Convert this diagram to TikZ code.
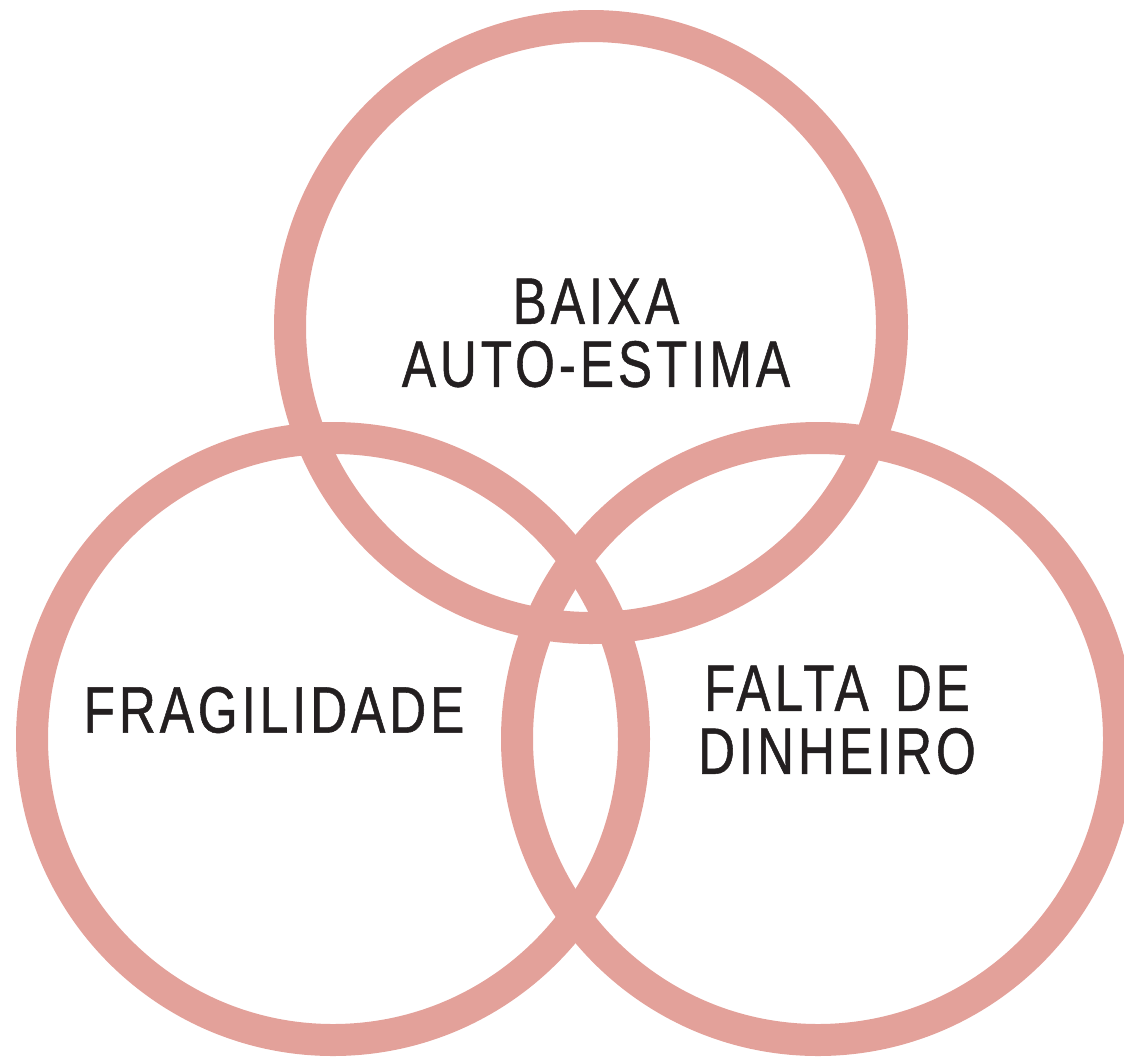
\documentclass[tikz,border=0pt]{standalone}
\usepackage{fontspec}
\setmainfont{Liberation Sans}[FakeStretch=0.78,LetterSpace=6,FakeBold=0.8]
\definecolor{ringpink}{HTML}{E3A19A}
\definecolor{inkgrey}{HTML}{231F20}

\begin{document}
\begin{tikzpicture}[x=1pt,y=-1pt,
	ring/.style={circle,draw=ringpink,line width=32pt,minimum size=602pt,inner sep=0pt},
	lbl/.style={text=inkgrey,font=\fontsize{65.6}{63}\selectfont,align=center,inner sep=0pt},
]
	\useasboundingbox (0,0) rectangle (1124,1058);
	\clip (0,0) rectangle (1124,1058);

	\node [ring] (top) at (591,327) {};
	\node [ring] (left) at (333,739) {};
	\node [ring] (right) at (818,739) {};

	\node [lbl] (baixa) at (596,333) {BAIXA\\AUTO-ESTIMA};
	\node [lbl] (frag) at (274,710) {FRAGILIDADE};
	\node [lbl] (falta) at (837,720) {FALTA\hspace{8pt} DE\\DINHEIRO};
\end{tikzpicture}
\end{document}
